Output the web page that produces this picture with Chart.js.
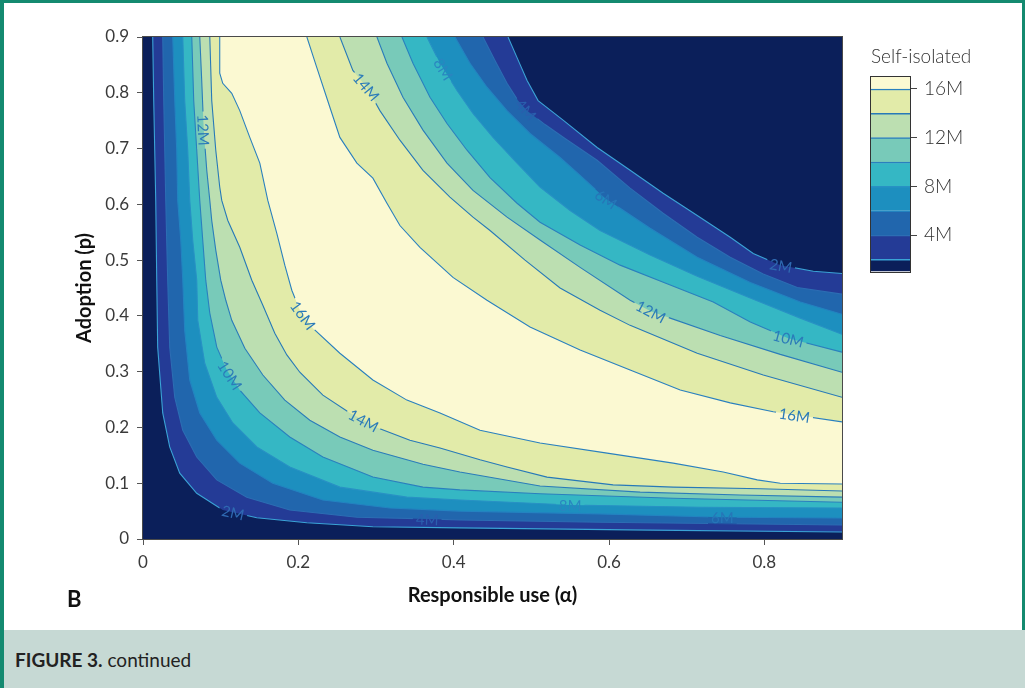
<!DOCTYPE html>
<html>
<head>
<meta charset="utf-8">
<script src="https://cdn.jsdelivr.net/npm/chart.js"></script>
<style>
  body { margin: 0; background: #fff; }
  #page { position: relative; width: 1025px; height: 688px; overflow: hidden; background: #fff; font-family: Lato, "Open Sans", sans-serif; }
  .edge { position: absolute; background: #148a70; }
  #caption { position: absolute; left: 4px; right: 0; top: 630px; height: 58px; background: #c6d9d4; }
  #caption span { position: absolute; left: 11px; top: 18px; font-size: 19px; color: #222; }
  #panel { position: absolute; left: 67px; top: 585px; font: bold 22px Lato, sans-serif; color: #111; }
  canvas { position: absolute; }
</style>
</head>
<body>
<div id="page">
  <canvas id="contour" width="1025" height="630" style="left:0;top:0"></canvas>
  <canvas id="cbar" width="175" height="250" style="left:845px;top:40px"></canvas>
  <div class="edge" style="left:0;top:0;width:1025px;height:3px"></div>
  <div class="edge" style="left:0;top:0;width:4px;height:688px"></div>
  <div class="edge" style="right:0;top:0;width:3px;height:630px"></div>
  <div id="panel">B</div>
  <div id="caption"><span><b>FIGURE 3.</b> continued</span></div>
</div>
<script>
Chart.defaults.font.family = "Lato, 'Open Sans', sans-serif"
Chart.defaults.color = "#3d3d3d"

// contour levels (millions self-isolated)
const levels = [2, 4, 6, 8, 10, 12, 14, 16]
const bandColors = ["#0b1f5a", "#243b96", "#2166ad", "#1d8fbf", "#35b7c4", "#78cab9", "#bcdfb1", "#e2eba9", "#fbf9d2"]
const lineColors = ["#3aa3d6", "#2c6db3", "#2383c0", "#2891c4", "#2a80be", "#2a7cba", "#2779b8", "#2a80bf"]
const labelColors = ["#2f6ab2", "#2a5fae", "#2676b8", "#2a86c0", "#2b7bb9", "#2b7bb9", "#2b7bb9", "#2b7bb9"]
const xTicks = [0, 0.2, 0.4, 0.6, 0.8]
const yTicks = [0, 0.1, 0.2, 0.3, 0.4, 0.5, 0.6, 0.7, 0.8, 0.9]
const cbarTicks = [4, 8, 12, 16]
const cbarMin = 1
const cbarMax = 17

// contour lines as [alpha, p]
// lower: from the top edge, down the left side, round the bend, out to the right edge
const lower2M = [[0.0125,0.9],[0.0138,0.786],[0.0151,0.697],[0.0164,0.607],[0.0177,0.464],[0.0189,0.344],[0.0254,0.226],[0.0344,0.165],[0.0473,0.118],[0.0692,0.082],[0.1027,0.052],[0.1465,0.038],[0.211,0.029],[0.296,0.022],[0.408,0.020],[0.653,0.016],[0.9,0.0125]]
const lower4M = [[0.0254,0.9],[0.0267,0.786],[0.028,0.697],[0.0293,0.607],[0.0305,0.536],[0.0318,0.464],[0.0344,0.344],[0.0409,0.254],[0.0512,0.195],[0.0692,0.147],[0.095,0.106],[0.1336,0.075],[0.189,0.052],[0.2754,0.039],[0.3656,0.036],[0.408,0.034],[0.5885,0.030],[0.9,0.025]]
const lower6M = [[0.0383,0.9],[0.0409,0.786],[0.0434,0.697],[0.0447,0.607],[0.0486,0.536],[0.0512,0.464],[0.0537,0.374],[0.0602,0.285],[0.0731,0.226],[0.095,0.177],[0.1246,0.136],[0.1671,0.100],[0.2316,0.070],[0.3179,0.0555],[0.408,0.050],[0.5885,0.045],[0.7458,0.039],[0.9,0.0376]]
const lower8M = [[0.0512,0.9],[0.0537,0.786],[0.0576,0.697],[0.0602,0.607],[0.064,0.536],[0.0692,0.464],[0.0705,0.392],[0.0795,0.315],[0.095,0.254],[0.1156,0.208],[0.1465,0.165],[0.189,0.129],[0.2535,0.093],[0.3398,0.075],[0.408,0.070],[0.5499,0.061],[0.7174,0.057],[0.9,0.0555]]
const lower10M = [[0.0628,0.9],[0.0653,0.786],[0.0692,0.697],[0.0731,0.607],[0.0769,0.536],[0.0808,0.464],[0.086,0.405],[0.095,0.344],[0.1079,0.303],[0.1246,0.267],[0.1504,0.226],[0.189,0.183],[0.2316,0.147],[0.296,0.111],[0.3605,0.093],[0.408,0.088],[0.5112,0.081],[0.6826,0.073],[0.9,0.066]]
const lower12M = [[0.0731,0.9],[0.0756,0.822],[0.0782,0.733],[0.0821,0.661],[0.086,0.607],[0.0885,0.571],[0.0937,0.518],[0.1001,0.464],[0.1066,0.428],[0.1143,0.392],[0.1311,0.342],[0.1543,0.294],[0.1826,0.249],[0.2148,0.213],[0.2535,0.183],[0.296,0.159],[0.3605,0.134],[0.408,0.120],[0.5112,0.095],[0.6401,0.084],[0.769,0.079],[0.9,0.075]]
const lower14M = [[0.086,0.9],[0.0885,0.786],[0.0937,0.697],[0.0988,0.631],[0.1014,0.607],[0.1092,0.571],[0.1246,0.523],[0.1401,0.464],[0.1543,0.419],[0.1697,0.369],[0.1852,0.330],[0.2019,0.299],[0.2316,0.258],[0.2664,0.226],[0.3025,0.199],[0.3437,0.177],[0.3824,0.163],[0.4339,0.142],[0.4687,0.129],[0.5202,0.111],[0.6053,0.097],[0.6826,0.093],[0.7948,0.090],[0.9,0.086]]
const lower16M = [[0.0988,0.9],[0.0988,0.835],[0.1027,0.817],[0.1143,0.799],[0.1246,0.768],[0.1375,0.72],[0.1504,0.674],[0.1607,0.607],[0.1723,0.548],[0.1826,0.491],[0.1916,0.446],[0.2019,0.41],[0.2187,0.378],[0.2535,0.333],[0.296,0.285],[0.3398,0.249],[0.3824,0.226],[0.4339,0.195],[0.5112,0.172],[0.5976,0.154],[0.6826,0.136],[0.7471,0.120],[0.7909,0.106],[0.8205,0.100],[0.9,0.0985]]

// upper: from the top edge down to the right edge on the high-alpha, high-p side
const upper2M = [[0.47,0.9],[0.4816,0.863],[0.4945,0.822],[0.5087,0.786],[0.5409,0.751],[0.5847,0.702],[0.6272,0.661],[0.6697,0.620],[0.7136,0.580],[0.7561,0.541],[0.7857,0.512],[0.8205,0.491],[0.8631,0.48],[0.9,0.476]]
const upper4M = [[0.4378,0.9],[0.4532,0.858],[0.4687,0.817],[0.4829,0.786],[0.4945,0.768],[0.5177,0.743],[0.5434,0.718],[0.5847,0.679],[0.6272,0.629],[0.6697,0.584],[0.7136,0.541],[0.7561,0.505],[0.7986,0.475],[0.8424,0.451],[0.9,0.439]]
const upper6M = [[0.4017,0.9],[0.421,0.853],[0.4429,0.810],[0.4687,0.768],[0.4983,0.727],[0.537,0.684],[0.5628,0.652],[0.595,0.611],[0.653,0.557],[0.7136,0.505],[0.7819,0.460],[0.8463,0.425],[0.9,0.403]]
const upper8M = [[0.3656,0.9],[0.3824,0.853],[0.4043,0.804],[0.4249,0.763],[0.4507,0.72],[0.4816,0.674],[0.5112,0.631],[0.5499,0.589],[0.5885,0.553],[0.653,0.509],[0.7136,0.471],[0.7819,0.432],[0.8463,0.396],[0.9,0.367]]
const upper10M = [[0.3334,0.9],[0.3476,0.853],[0.3695,0.792],[0.3914,0.745],[0.4172,0.697],[0.4468,0.648],[0.4816,0.602],[0.5112,0.568],[0.5628,0.527],[0.6143,0.491],[0.6723,0.459],[0.7342,0.425],[0.7819,0.389],[0.8308,0.36],[0.9,0.335]]
const upper12M = [[0.3012,0.9],[0.3141,0.853],[0.3347,0.792],[0.3605,0.733],[0.3914,0.674],[0.4249,0.625],[0.4687,0.577],[0.5112,0.536],[0.5628,0.487],[0.6272,0.428],[0.6543,0.408],[0.6788,0.396],[0.7432,0.365],[0.8205,0.331],[0.9,0.299]]
const upper14M = [[0.2535,0.9],[0.2702,0.84],[0.2883,0.81],[0.305,0.768],[0.3308,0.715],[0.3605,0.661],[0.3952,0.613],[0.4249,0.577],[0.4468,0.553],[0.4919,0.5],[0.537,0.45],[0.5885,0.41],[0.6272,0.383],[0.7136,0.333],[0.7986,0.294],[0.9,0.254]]
const upper16M = [[0.211,0.9],[0.2238,0.845],[0.2406,0.774],[0.2535,0.72],[0.2754,0.674],[0.296,0.647],[0.3141,0.602],[0.3308,0.562],[0.3566,0.523],[0.3991,0.469],[0.4429,0.428],[0.4983,0.38],[0.5628,0.339],[0.6272,0.303],[0.6917,0.267],[0.7561,0.244],[0.8115,0.228],[0.9,0.21]]

const lowerCurves = [lower2M, lower4M, lower6M, lower8M, lower10M, lower12M, lower14M, lower16M]
const upperCurves = [upper2M, upper4M, upper6M, upper8M, upper10M, upper12M, upper14M, upper16M]

// inline contour labels: level, which line, rough spot (snapped onto the line when drawn)
const labelLevels = [12, 14, 8, 4, 6, 2, 12, 10, 16, 16, 14, 10, 2, 4, 8, 6]
const labelSides = ["lower", "upper", "upper", "upper", "upper", "upper", "upper", "upper", "upper", "lower", "lower", "lower", "lower", "lower", "lower", "lower"]
const labelAlpha = [0.078, 0.288, 0.389, 0.495, 0.595, 0.821, 0.654, 0.831, 0.839, 0.206, 0.283, 0.116, 0.116, 0.366, 0.55, 0.746]
const labelP = [0.733, 0.811, 0.844, 0.772, 0.607, 0.489, 0.408, 0.36, 0.224, 0.401, 0.21, 0.297, 0.047, 0.038, 0.059, 0.039]

const labelFont = "15px Lato, 'Open Sans', sans-serif"

function toPoints(curve){
    return curve.map(([x, y]) => ({x: x, y: y}))
}

function fmtTick(v){
    return String(Number(v.toFixed(1)))
}

// band polygons (area above each level) first, then the contour lines on top
const datasets = []
lowerCurves.forEach((lo, i) => {
    const shape = lo.concat(upperCurves[i].slice().reverse())
    datasets.push({
        data: toPoints(shape),
        showLine: true,
        fill: "shape",
        backgroundColor: bandColors[i + 1],
        borderWidth: 0,
        pointRadius: 0,
        tension: 0,
        order: 20 - i
    })
})
levels.forEach((lvl, i) => {
    [lowerCurves[i], upperCurves[i]].forEach(c => {
        datasets.push({
            data: toPoints(c),
            showLine: true,
            fill: false,
            borderColor: lineColors[i],
            borderWidth: 1.1,
            pointRadius: 0,
            tension: 0,
            order: 0,
            contour: true
        })
    })
})

function labelGeometry(chart){
    const xs = chart.scales.x, ys = chart.scales.y
    const out = []
    for (let k = 0; k < labelLevels.length; k++){
        const i = levels.indexOf(labelLevels[k])
        const curve = labelSides[k] === "lower" ? lowerCurves[i] : upperCurves[i]
        const px = curve.map(([a, p]) => [xs.getPixelForValue(a), ys.getPixelForValue(p)])
        const tx = xs.getPixelForValue(labelAlpha[k]), ty = ys.getPixelForValue(labelP[k])
        let best = null
        for (let j = 0; j < px.length - 1; j++){
            const [x1, y1] = px[j], [x2, y2] = px[j + 1]
            const dx = x2 - x1, dy = y2 - y1
            const len2 = dx * dx + dy * dy
            let t = len2 ? ((tx - x1) * dx + (ty - y1) * dy) / len2 : 0
            t = Math.max(0, Math.min(1, t))
            const cx = x1 + t * dx, cy = y1 + t * dy
            const d = (cx - tx) ** 2 + (cy - ty) ** 2
            if (!best || d < best.d) best = {d: d, cx: cx, cy: cy, ang: Math.atan2(dy, dx)}
        }
        let ang = best.ang
        if (ang > Math.PI / 2) ang -= Math.PI
        if (ang <= -Math.PI / 2) ang += Math.PI
        out.push({x: best.cx, y: best.cy, ang: ang, text: labelLevels[k] + "M", color: labelColors[i]})
    }
    return out
}

const contourPlugin = {
    id: "contourExtras",
    beforeDatasetsDraw(chart){
        const {ctx, chartArea: a} = chart
        ctx.save()
        ctx.fillStyle = bandColors[0]
        ctx.fillRect(a.left, a.top, a.right - a.left, a.bottom - a.top)
        ctx.font = labelFont
        chart.$labels = labelGeometry(chart).map(l => Object.assign(l, {w: ctx.measureText(l.text).width}))
        ctx.restore()
    },
    beforeDatasetDraw(chart, args){
        if (!chart.data.datasets[args.index].contour) return
        const ctx = chart.ctx
        ctx.save()
        ctx.beginPath()
        ctx.rect(0, 0, chart.width, chart.height)
        chart.$labels.forEach(l => {
            const hw = l.w / 2 + 3, hh = 7
            const c = Math.cos(l.ang), s = Math.sin(l.ang)
            const pts = [[-hw, -hh], [hw, -hh], [hw, hh], [-hw, hh]].map(([u, v]) => [l.x + u * c - v * s, l.y + u * s + v * c])
            ctx.moveTo(pts[0][0], pts[0][1])
            for (let q = 1; q < 4; q++) ctx.lineTo(pts[q][0], pts[q][1])
            ctx.closePath()
        })
        ctx.clip("evenodd")
    },
    afterDatasetDraw(chart, args){
        if (chart.data.datasets[args.index].contour) chart.ctx.restore()
    },
    afterDatasetsDraw(chart){
        const {ctx, chartArea: a} = chart
        ctx.save()
        ctx.font = labelFont
        ctx.textAlign = "center"
        ctx.textBaseline = "middle"
        chart.$labels.forEach(l => {
            ctx.save()
            ctx.translate(l.x, l.y)
            ctx.rotate(l.ang)
            ctx.fillStyle = l.color
            ctx.fillText(l.text, 0, 1)
            ctx.restore()
        })
        ctx.strokeStyle = "#4a4a4a"
        ctx.lineWidth = 1
        ctx.strokeRect(Math.round(a.left) - 0.5, Math.round(a.top) - 0.5, Math.round(a.right - a.left) + 1, Math.round(a.bottom - a.top) + 1)
        ctx.restore()
    }
}

new Chart(document.getElementById("contour"), {
    type: "scatter",
    data: {datasets: datasets},
    options: {
        responsive: false,
        devicePixelRatio: 1,
        animation: false,
        events: [],
        layout: {padding: {left: 0, top: 37, right: 183, bottom: 22}},
        plugins: {legend: {display: false}, tooltip: {enabled: false}},
        scales: {
            x: {
                type: "linear", min: 0, max: 0.9,
                afterBuildTicks: s => { s.ticks = xTicks.map(v => ({value: v})) },
                afterFit: s => { s.height = 69 },
                grid: {drawOnChartArea: false, tickLength: 6, color: "#555"},
                border: {display: true, color: "#555"},
                ticks: {padding: 7, maxRotation: 0, color: "#3a3a3a", font: {size: 17}, callback: v => fmtTick(v)},
                title: {display: true, text: "Responsible use (α)", color: "#111", font: {size: 20, weight: "bold"}, padding: {top: 0, bottom: 0}}
            },
            y: {
                type: "linear", min: 0, max: 0.9,
                afterBuildTicks: s => { s.ticks = yTicks.map(v => ({value: v})) },
                afterFit: s => { s.width = 143 },
                grid: {drawOnChartArea: false, tickLength: 6, color: "#555"},
                border: {display: true, color: "#555"},
                ticks: {padding: 8, color: "#3a3a3a", font: {size: 17}, callback: v => fmtTick(v)},
                title: {display: true, text: "Adoption (p)", color: "#111", font: {size: 20, weight: "bold"}, padding: {top: 73, bottom: 0}}
            }
        }
    },
    plugins: [contourPlugin]
})

// colorbar: one floating bar per band
const cbarEdges = [cbarMin].concat(levels, [cbarMax])
const cbarSets = bandColors.map((c, k) => ({
    data: [[cbarEdges[k], cbarEdges[k + 1]]],
    backgroundColor: c,
    borderColor: k < levels.length ? lineColors[k] : c,
    borderWidth: k < levels.length ? {top: 1.5, right: 0, bottom: 0, left: 0} : 0,
    borderSkipped: false,
    grouped: false,
    barPercentage: 1,
    categoryPercentage: 1
}))

const framePlugin = {
    id: "cbarFrame",
    afterDatasetsDraw(chart){
        const {ctx, chartArea: a} = chart
        ctx.save()
        ctx.strokeStyle = "#333"
        ctx.lineWidth = 1
        ctx.strokeRect(Math.round(a.left) - 0.5, Math.round(a.top) - 0.5, Math.round(a.right - a.left) + 1, Math.round(a.bottom - a.top) + 1)
        ctx.restore()
    }
}

new Chart(document.getElementById("cbar"), {
    type: "bar",
    data: {labels: [""], datasets: cbarSets},
    options: {
        responsive: false,
        devicePixelRatio: 1,
        animation: false,
        events: [],
        layout: {padding: {left: 26, top: 0, right: 0, bottom: 15}},
        plugins: {
            legend: {display: false},
            tooltip: {enabled: false},
            title: {display: true, text: "Self-isolated", align: "start", color: "#333", font: {size: 19, weight: 300}, padding: {top: 5, bottom: 9}}
        },
        scales: {
            x: {display: false},
            y: {
                min: cbarMin, max: cbarMax, position: "right",
                afterBuildTicks: s => { s.ticks = cbarTicks.map(v => ({value: v})) },
                afterFit: s => { s.width = 110 },
                grid: {drawOnChartArea: false, tickLength: 7, color: "#444"},
                border: {display: true, color: "#333"},
                ticks: {padding: 7, color: "#333", font: {size: 19, weight: 300}, callback: v => v + "M"}
            }
        }
    },
    plugins: [framePlugin]
})
</script>
</body>
</html>
